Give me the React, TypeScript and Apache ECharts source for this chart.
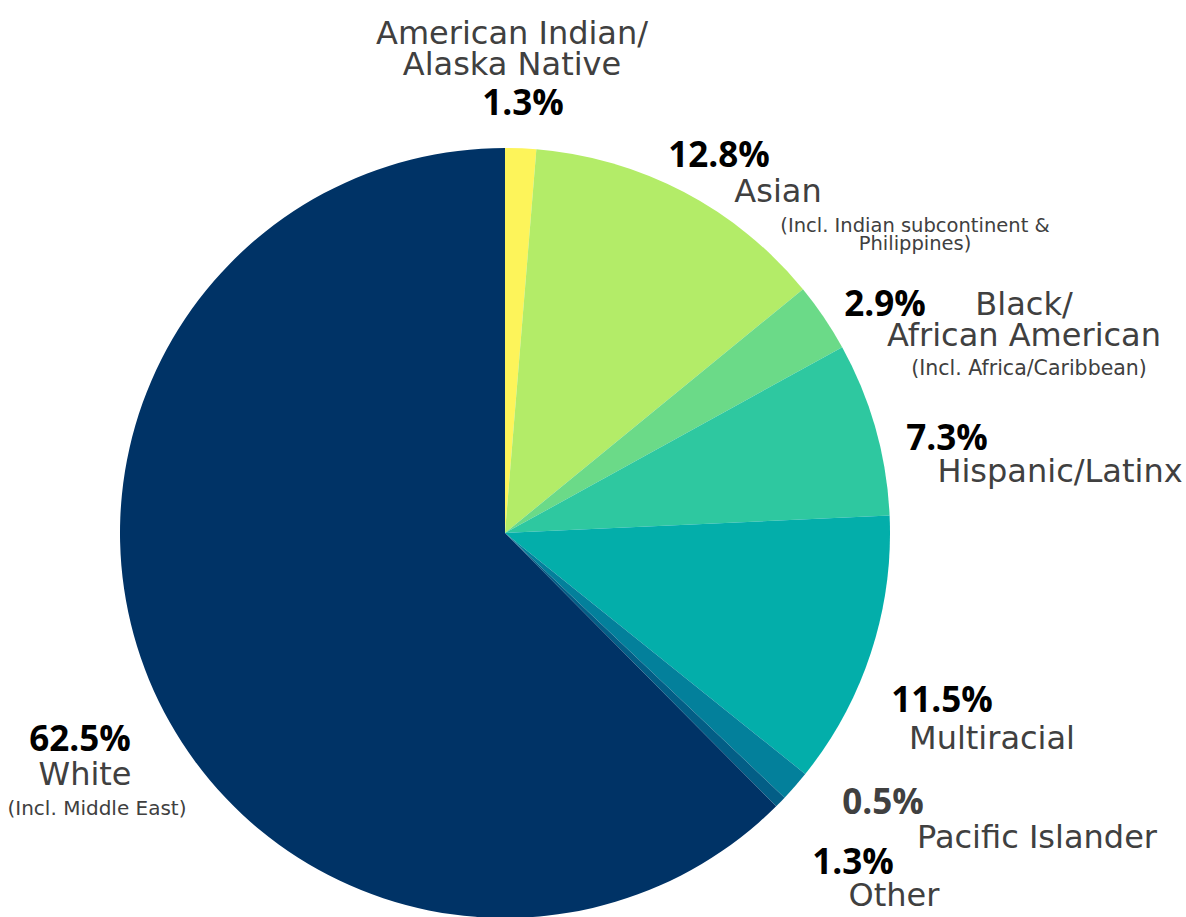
import React, { useEffect, useRef } from "react";
import * as echarts from "echarts";

const categories = [
  "American Indian/Alaska Native",
  "Asian",
  "Black/African American",
  "Hispanic/Latinx",
  "Multiracial",
  "Other",
  "Pacific Islander",
  "White",
];
const values = [1.3, 12.8, 2.9, 7.3, 11.5, 1.3, 0.5, 62.5];
const colors = ["#FDF45A", "#B3EC68", "#6BDA88", "#2EC8A0", "#03AEAA", "#03809B", "#035E86", "#003366"];

// label layout (presentation only)
const nameLines = [
  ["American Indian/", "Alaska Native"],
  ["Asian"],
  ["Black/", "African American"],
  ["Hispanic/Latinx"],
  ["Multiracial"],
  ["Other"],
  ["Pacific Islander"],
  ["White"],
];
const notes = [
  [],
  ["(Incl. Indian subcontinent &", "Philippines)"],
  ["(Incl. Africa/Caribbean)"],
  [],
  [],
  [],
  [],
  ["(Incl. Middle East)"],
];
// [pctX, pctY, nameX, nameY(block centre), noteX, noteY(block centre), noteFontSize]
const labelPos = [
  [523, 101, 512, 48.5, 0, 0, 20],
  [719, 153, 778, 191, 915, 234, 19.5],
  [885, 302, 1024, 319.5, 1029, 368, 20.5],
  [947, 436, 1060, 471, 0, 0, 20],
  [942, 698, 992, 738, 0, 0, 20],
  [853, 860, 894, 895, 0, 0, 20],
  [883, 800, 1037, 837, 0, 0, 20],
  [80, 737, 85, 774, 97, 808, 20],
];

const NAME_FONT = "'DejaVu Sans', sans-serif";
const PCT_FONT = "'Open Sans', 'Noto Sans', sans-serif";

export default function App() {
  const ref = useRef<HTMLDivElement>(null);
  useEffect(() => {
    if (!ref.current) return;
    const chart = echarts.init(ref.current, null, { renderer: "svg" });
    const graphics: any[] = [];
    categories.forEach((c, i) => {
      const p = labelPos[i];
      graphics.push({
        type: "text",
        x: p[0],
        y: p[1],
        style: {
          text: values[i].toFixed(1) + "%",
          fill: i === 6 ? "#404040" : "#000000",
          font: `bold 35px ${PCT_FONT}`,
          align: "center",
          verticalAlign: "middle",
          lineHeight: 30,
        },
      });
      graphics.push({
        type: "text",
        x: p[2],
        y: p[3],
        style: {
          text: nameLines[i].join("\n"),
          fill: "#404040",
          font: `32px ${NAME_FONT}`,
          align: "center",
          verticalAlign: "middle",
          lineHeight: 31,
        },
      });
      if (notes[i].length) {
        graphics.push({
          type: "text",
          x: p[4],
          y: p[5],
          style: {
            text: notes[i].join("\n"),
            fill: "#404040",
            font: `${p[6]}px ${NAME_FONT}`,
            align: "center",
            verticalAlign: "middle",
            lineHeight: 18,
          },
        });
      }
    });
    chart.setOption({
      animation: false,
      backgroundColor: "#ffffff",
      series: [
        {
          type: "pie",
          radius: 385,
          center: [505, 533],
          startAngle: 90,
          clockwise: true,
          label: { show: false },
          labelLine: { show: false },
          itemStyle: { borderWidth: 0 },
          emphasis: { disabled: true },
          data: categories.map((c, i) => ({
            name: c,
            value: values[i],
            itemStyle: { color: colors[i] },
          })),
        },
      ],
      graphic: graphics,
    });
    return () => chart.dispose();
  }, []);
  return (
    <div
      ref={ref}
      style={{ position: "fixed", left: 0, top: 0, width: 1186, height: 917 }}
    />
  );
}
